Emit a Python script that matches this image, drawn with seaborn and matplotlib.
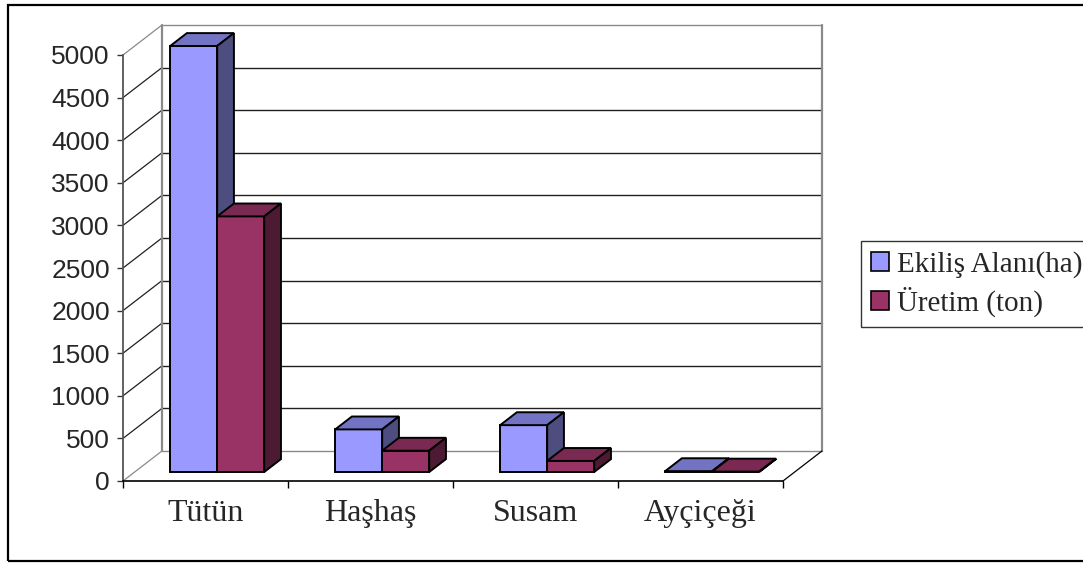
import matplotlib
matplotlib.use("Agg")
import matplotlib.pyplot as plt
from matplotlib.patches import Polygon, Rectangle, Patch
import seaborn as sns
import pandas as pd

# data
crops = ["Tütün", "Haşhaş", "Susam", "Ayçiçeği"]
series = ["Ekiliş Alanı(ha)", "Üretim (ton)"]
area = [5000, 500, 550, 10]
production = [3000, 250, 130, 5]
yticks = list(range(0, 5001, 500))

front_col = ["#9999FF", "#993366"]
top_col = ["#7373C4", "#7A2952"]
side_col = ["#4D4D80", "#4D1A33"]

sns.set_theme(style="white")
plt.rcParams["font.family"] = ["Liberation Sans", "DejaVu Sans"]

df = pd.DataFrame({
    "crop": crops * 2,
    "series": [series[0]] * len(crops) + [series[1]] * len(crops),
    "value": area + production,
})

fig = plt.figure(figsize=(10.83, 5.63), dpi=100)
ax = fig.add_axes([123 / 1083, 82 / 563, 660 / 1083, 426 / 563])

sns.barplot(data=df, x="crop", y="value", hue="series", order=crops,
            hue_order=series, palette=front_col, saturation=1, width=0.57,
            edgecolor="black", linewidth=1.4, legend=False, ax=ax, zorder=3)

ax.set_xlim(-0.5, len(crops) - 0.5)
ax.set_ylim(0, 5000)

# depth of the pseudo-3d box, in data units
DX = 0.236
DY = 352
f0, f1 = 0.30, 0.73  # bars sit between these depth fractions

x_left, x_right = -0.5, len(crops) - 0.5
grid_c = "#202020"
edge_c = "#8a8a8a"

# back wall + left wall
for v in yticks:
    c = edge_c if v in (0, 5000) else grid_c
    ax.plot([x_left + DX, x_right + DX], [v + DY, v + DY], color=c, lw=1, zorder=1, clip_on=False)
    ax.plot([x_left, x_left + DX], [v, v + DY], color=c, lw=0.9, zorder=1, clip_on=False)
ax.plot([x_left + DX] * 2, [DY, 5000 + DY], color=edge_c, lw=1.6, zorder=1, clip_on=False)
ax.plot([x_right + DX] * 2, [DY, 5000 + DY], color=edge_c, lw=1.6, zorder=1, clip_on=False)
ax.plot([x_right, x_right + DX], [0, DY], color="black", lw=0.9, zorder=1, clip_on=False)

# push bars into depth and add top/side faces
bdx = (f1 - f0) * DX
bdy = (f1 - f0) * DY
for k, cont in enumerate(ax.containers):
    for p in cont.patches:
        p.set_x(p.get_x() + f0 * DX)
        p.set_y(f0 * DY)
        p.set_clip_on(False)
        p.set_zorder(3 + k)
        x0, w, h, y0 = p.get_x(), p.get_width(), p.get_height(), p.get_y()
        top = [(x0, y0 + h), (x0 + w, y0 + h), (x0 + w + bdx, y0 + h + bdy), (x0 + bdx, y0 + h + bdy)]
        side = [(x0 + w, y0), (x0 + w + bdx, y0 + bdy), (x0 + w + bdx, y0 + h + bdy), (x0 + w, y0 + h)]
        ax.add_patch(Polygon(top, closed=True, facecolor=top_col[k], edgecolor="black",
                             lw=1.4, zorder=3 + k, clip_on=False, joinstyle="miter"))
        ax.add_patch(Polygon(side, closed=True, facecolor=side_col[k], edgecolor="black",
                             lw=1.4, zorder=3 + k, clip_on=False, joinstyle="miter"))

# axes, ticks
for s in ["top", "right"]:
    ax.spines[s].set_visible(False)
ax.spines["left"].set_color("#555555")
ax.spines["left"].set_linewidth(1.3)
ax.spines["bottom"].set_color("black")
ax.spines["bottom"].set_linewidth(1.2)
ax.set_facecolor("none")

ax.set_yticks(yticks)
ax.set_yticklabels([str(v) for v in yticks], fontsize=19, family=["Liberation Sans", "DejaVu Sans"])
ax.tick_params(axis="y", direction="out", length=4.5, width=1, color="#333333", pad=5, left=True)

ax.set_xticks([x_left + i for i in range(len(crops) + 1)])
ax.set_xticklabels([])
ax.set_xticks(range(len(crops)), minor=True)
ax.set_xticklabels(crops, minor=True, fontsize=23, family=["Liberation Serif", "DejaVu Serif"])
ax.tick_params(axis="x", which="major", direction="out", length=5, width=1, color="black", bottom=True)
ax.tick_params(axis="x", which="minor", length=0, pad=13, bottom=True)
ax.set_xlabel("")
ax.set_ylabel("")

# legend
handles = [Patch(facecolor=front_col[i], edgecolor="black", lw=1.2) for i in range(2)]
leg = fig.legend(handles, series, loc="center left", bbox_to_anchor=(861 / 1083, 1 - 284 / 563),
                 borderaxespad=0, frameon=True, fancybox=False, shadow=False,
                 prop={"family": ["Liberation Serif", "DejaVu Serif"], "size": 21},
                 handlelength=0.6, handleheight=0.6, handletextpad=0.3,
                 labelspacing=0.3, borderpad=0.35)
leg.get_frame().set_edgecolor("black")
leg.get_frame().set_linewidth(1)

# outer border of the chart area
fig.patches.append(Rectangle((8 / 1083, 2 / 563), 1.2, 556 / 563, transform=fig.transFigure,
                             fill=False, edgecolor="black", lw=1.6, zorder=0))

fig.savefig("out.png", dpi=100)
